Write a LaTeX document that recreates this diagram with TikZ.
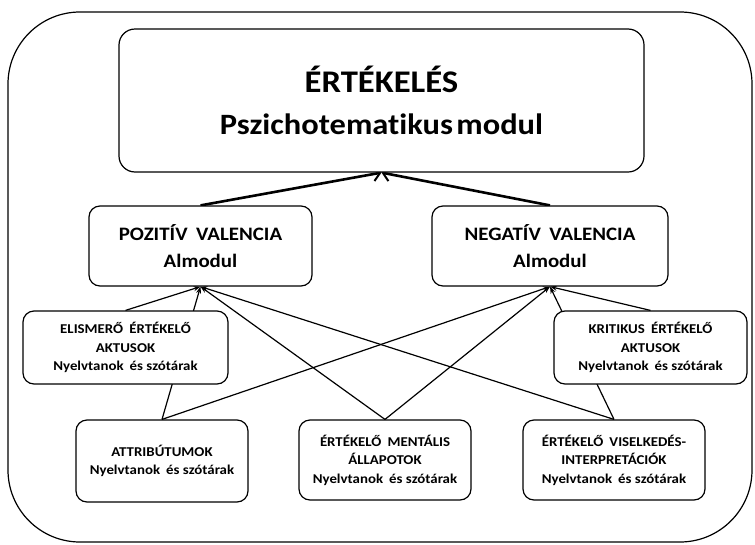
\documentclass[tikz,border=0pt]{standalone}
\usepackage{fontspec}
\setmainfont{Carlito}[FakeStretch=1.1, Ligatures=NoCommon]
\usetikzlibrary{arrows.meta,backgrounds}
\tikzset{
  box/.style={draw, line width=1.2pt, rounded corners=11pt, fill=white, align=center, inner sep=0pt, font=\bfseries},
  bigbox/.style={box, rounded corners=16pt},
  up/.style={line width=2.6pt, -{Straight Barb[length=7pt,width=14pt,line width=2pt]}},
  feed/.style={line width=1.2pt, -{Stealth[length=7pt,width=5pt]}},
  frame/.style={draw, line width=1.2pt, rounded corners=72pt},
  sm/.style={font=\bfseries\fontsize{13.5}{18.5}\selectfont},
  md/.style={font=\bfseries\fontsize{19}{27}\selectfont},
  lg/.style={font=\bfseries\fontsize{29.5}{42}\selectfont}
}
\newcommand{\ws}{\hspace{0.45em}}
\begin{document}
\begin{tikzpicture}[x=1pt,y=-1pt]
\useasboundingbox (0,0) rectangle (755,544);
\path[frame] (8,12) rectangle (752,542);

\node[bigbox, lg, minimum width=525pt, minimum height=143pt] (top) at (381.5,100.5)
  {{\fontsize{31.5}{42}\selectfont ÉRTÉKELÉS}\\Pszichotematikus\hspace{0.12em}modul};

\node[box, md, minimum width=223pt, minimum height=80pt] (poz) at (200.5,246)
  {POZITÍV\ws VALENCIA\\Almodul};
\node[box, md, minimum width=236pt, minimum height=80pt] (neg) at (550,246)
  {NEGATÍV\ws VALENCIA\\Almodul};

\node[box, sm, minimum width=205pt, minimum height=73pt] (elis) at (125.5,347.5)
  {ELISMERŐ\ws ÉRTÉKELŐ\\AKTUSOK\\Nyelvtanok\ws és szótárak};
\node[box, sm, minimum width=193pt, minimum height=73pt] (krit) at (650.5,347.5)
  {KRITIKUS\ws ÉRTÉKELŐ\\AKTUSOK\\Nyelvtanok\ws és szótárak};

\node[box, sm, minimum width=172pt, minimum height=82pt] (attr) at (162,461)
  {ATTRIBÚTUMOK\\Nyelvtanok\ws és szótárak};
\node[box, sm, minimum width=172pt, minimum height=80pt] (ment) at (385,460)
  {ÉRTÉKELŐ\ws MENTÁLIS\\ÁLLAPOTOK\\Nyelvtanok\ws és szótárak};
\node[box, sm, minimum width=182pt, minimum height=80pt] (visel) at (614,460)
  {ÉRTÉKELŐ\ws VISELKEDÉS-\\INTERPRETÁCIÓK\\Nyelvtanok\ws és szótárak};

\begin{scope}[on background layer]
\draw[up] (poz.north) -- (top.south);
\draw[up] (neg.north) -- (top.south);
\draw[feed] (elis.north) -- (poz.south);
\draw[feed] (attr.north) -- (poz.south);
\draw[feed] (ment.north) -- (poz.south);
\draw[feed] (visel.north) -- (poz.south);
\draw[feed] (krit.north) -- (neg.south);
\draw[feed] (visel.north) -- (neg.south);
\draw[feed] (ment.north) -- (neg.south);
\draw[feed] (attr.north) -- (neg.south);
\end{scope}
\end{tikzpicture}
\end{document}
